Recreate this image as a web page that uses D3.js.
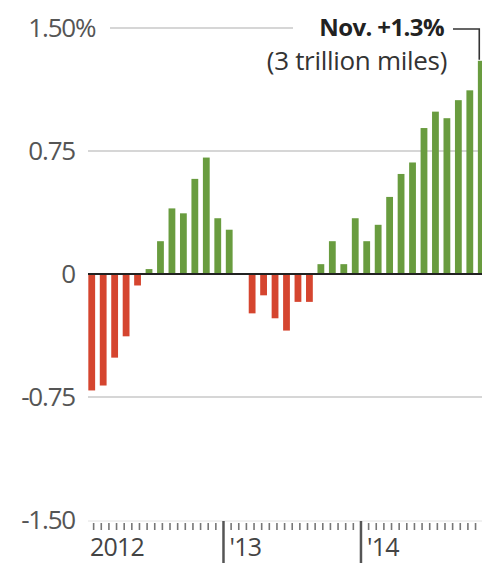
<!DOCTYPE html>
<html>
<head>
<meta charset="utf-8">
<script src="https://cdn.jsdelivr.net/npm/d3@7"></script>
<style>
  html, body { margin: 0; padding: 0; background: #fff; }
  svg { display: block; font-family: "Open Sans", "Liberation Sans", sans-serif; }
</style>
</head>
<body>
<svg id="chart" width="482" height="565"></svg>
<script>
// Monthly change in vehicle miles traveled, Jan 2012 – Nov 2014 (%)
const months = [
  "2012-01","2012-02","2012-03","2012-04","2012-05","2012-06","2012-07","2012-08","2012-09","2012-10","2012-11","2012-12",
  "2013-01","2013-02","2013-03","2013-04","2013-05","2013-06","2013-07","2013-08","2013-09","2013-10","2013-11","2013-12",
  "2014-01","2014-02","2014-03","2014-04","2014-05","2014-06","2014-07","2014-08","2014-09","2014-10","2014-11"
];
const values = [
  -0.71, -0.68, -0.51, -0.38, -0.07, 0.03, 0.20, 0.40, 0.37, 0.58, 0.71, 0.34,
  0.27, 0, -0.24, -0.13, -0.27, -0.345, -0.17, -0.17, 0.06, 0.20, 0.06, 0.34,
  0.20, 0.30, 0.47, 0.61, 0.68, 0.89, 0.99, 0.95, 1.06, 1.12, 1.3
];
const yTicks = [1.5, 0.75, 0, -0.75, -1.5];
const yTickLabels = ["1.50", "0.75", "0", "-0.75", "-1.50"];
const yearStarts = [0, 12, 24];
const yearLabels = ["2012", "'13", "'14"];
const noteTitle = "Nov. +1.3%";
const noteSub = "(3 trillion miles)";

const svg = d3.select("#chart");
const W = 482;

const x = d3.scaleLinear().domain([0, 35]).range([86, 487]);
const y = d3.scaleLinear().domain([-1.5, 1.5]).range([520, 28]);
const barW = 6.8;

// horizontal gridlines
const grid = svg.append("g");
grid.append("line")
  .attr("x1", 110).attr("x2", 293)
  .attr("y1", y(1.5)).attr("y2", y(1.5))
  .attr("stroke", "#c8c8c8").attr("stroke-width", 1.5);
[0.75, -0.75].forEach(v => {
  grid.append("line")
    .attr("x1", 88).attr("x2", W)
    .attr("y1", y(v)).attr("y2", y(v))
    .attr("stroke", "#c8c8c8").attr("stroke-width", 1.5);
});

// y labels
const yl = svg.append("g").attr("fill", "#555").attr("font-size", 26).attr("letter-spacing", -1.2);
yTicks.forEach((v, i) => {
  yl.append("text")
    .attr("x", 75).attr("y", y(v))
    .attr("dy", "0.36em")
    .attr("text-anchor", "end")
    .text(yTickLabels[i]);
});
yl.append("text")
  .attr("x", 75).attr("y", y(1.5)).attr("dy", "0.36em")
  .text("%");

// bars
svg.append("g").selectAll("rect")
  .data(values)
  .join("rect")
  .attr("x", (d, i) => x(i + 0.5) - barW / 2)
  .attr("width", barW)
  .attr("y", d => y(Math.max(0, d)))
  .attr("height", d => Math.abs(y(d) - y(0)))
  .attr("fill", d => d < 0 ? "#d5452f" : "#699c3f");

// zero baseline
svg.append("line")
  .attr("x1", 88).attr("x2", W)
  .attr("y1", y(0)).attr("y2", y(0))
  .attr("stroke", "#222").attr("stroke-width", 2);

// bottom axis
const axisY = y(-1.5) + 1;
svg.append("line")
  .attr("x1", 88).attr("x2", W)
  .attr("y1", axisY).attr("y2", axisY)
  .attr("stroke", "#e2e2e2").attr("stroke-width", 1);

const minorTicks = d3.range(0, 35 * 1.5 + 1).map(k => k * 2 / 3)
  .filter(m => m % 12 !== 0 && m > 0.3);
svg.append("g").selectAll("line")
  .data(minorTicks)
  .join("line")
  .attr("x1", d => x(d)).attr("x2", d => x(d))
  .attr("y1", axisY + 2).attr("y2", axisY + 9)
  .attr("stroke", "#777").attr("stroke-width", 1.6);

svg.append("g").selectAll("line")
  .data(yearStarts.slice(1))
  .join("line")
  .attr("x1", d => x(d)).attr("x2", d => x(d))
  .attr("y1", axisY).attr("y2", axisY + 42)
  .attr("stroke", "#555").attr("stroke-width", 2.5);

svg.append("g").attr("fill", "#444").attr("font-size", 25).attr("letter-spacing", -0.8)
  .selectAll("text")
  .data(yearStarts)
  .join("text")
  .attr("x", d => x(d) + (d === 0 ? 4 : 6))
  .attr("y", 556)
  .text((d, i) => yearLabels[i]);

// annotation for the latest month
const last = values.length - 1;
const lx = x(last + 0.5) - 2;
svg.append("path")
  .attr("d", `M453,${y(1.5) + 1}H${lx}V${y(values[last]) - 1}`)
  .attr("fill", "none").attr("stroke", "#333").attr("stroke-width", 1.6);

svg.append("text")
  .attr("x", 444).attr("y", 36)
  .attr("text-anchor", "end")
  .attr("font-size", 24).attr("font-weight", "bold")
  .attr("letter-spacing", -0.6)
  .attr("fill", "#222")
  .text(noteTitle);
svg.append("text")
  .attr("x", 447).attr("y", 70)
  .attr("text-anchor", "end")
  .attr("font-size", 26)
  .attr("letter-spacing", -0.3)
  .attr("fill", "#333")
  .text(noteSub);
</script>
</body>
</html>
